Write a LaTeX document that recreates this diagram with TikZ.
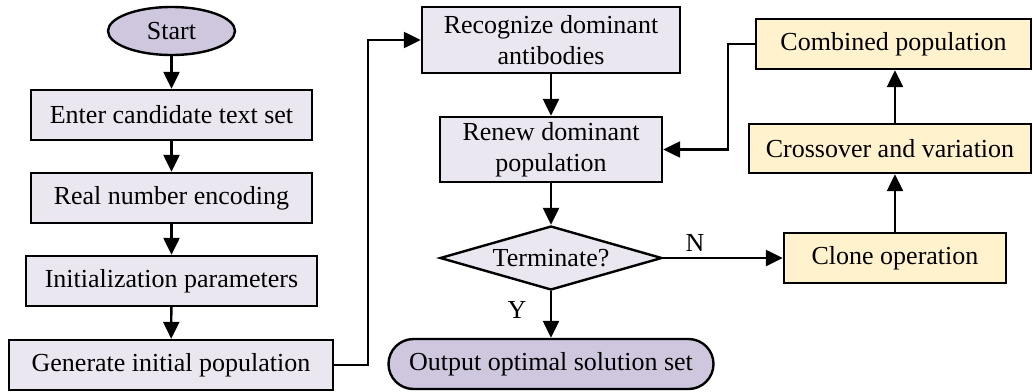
\documentclass[tikz,border=0pt]{standalone}
\usepackage{fontspec}
\setmainfont{Liberation Serif}
\usetikzlibrary{arrows.meta,shapes.geometric,calc}
\definecolor{boxfill}{HTML}{EAE7F0}
\definecolor{termfill}{HTML}{CFC7DE}
\definecolor{yelfill}{HTML}{FFF2CC}
\begin{document}
\begin{tikzpicture}[x=1pt,y=-1pt,
  every node/.style={font=\fontsize{26}{31}\selectfont, line width=2.4pt, draw=black, inner sep=0pt, align=center},
  proc/.style={rectangle, fill=boxfill},
  yproc/.style={rectangle, fill=yelfill},
  term/.style={ellipse, fill=termfill},
  pill/.style={rectangle, rounded corners=25pt, fill=termfill},
  decide/.style={diamond, fill=boxfill, aspect=3.47},
  lbl/.style={draw=none, fill=none},
  conn/.style={line width=2.4pt, -{Triangle[length=17pt,width=16pt]}}
]
\useasboundingbox (0,0) rectangle (1033,391);
\node[term, minimum width=127pt, minimum height=48pt] (start) at (171.5,31) {Start};
\node[proc, minimum width=281pt, minimum height=50pt] (enter) at (171.5,115) {Enter candidate text set};
\node[proc, minimum width=281pt, minimum height=50pt] (real) at (171.5,198) {Real number encoding};
\node[proc, minimum width=291pt, minimum height=50pt] (init) at (171.5,281) {Initialization parameters};
\node[proc, minimum width=324pt, minimum height=50pt] (gen) at (171,365) {Generate initial population};
\node[proc, minimum width=258pt, minimum height=66pt] (rec) at (551,40) {Recognize dominant\\antibodies};
\node[proc, minimum width=222pt, minimum height=65pt] (renew) at (551,149.5) {Renew dominant\\population};
\node[decide, minimum width=222pt, minimum height=64pt] (dec) at (551,258) {Terminate?};
\node[pill, minimum width=325pt, minimum height=50pt] (out) at (551,364) {Output optimal solution set};
\node[yproc, minimum width=222pt, minimum height=50pt] (clone) at (895,258) {Clone operation};
\node[yproc, minimum width=282pt, minimum height=49pt] (cross) at (890,148.5) {Crossover and variation};
\node[yproc, minimum width=275pt, minimum height=50pt] (comb) at (893.5,44) {Combined population};
\node[lbl] (nlab) at (695,243) {N};
\node[lbl] (ylab) at (517,310) {Y};
\draw[conn] (start) -- (enter);
\draw[conn] (enter) -- (real);
\draw[conn] (real) -- (init);
\draw[conn] (init) -- (gen);
\draw[conn] (gen.east) -- ++(34,0) |- (rec.west);
\draw[conn] (rec) -- (renew);
\draw[conn] (renew) -- (dec);
\draw[conn] (dec) -- (out);
\draw[conn] (dec.east) -- (clone.west);
\draw[conn] (clone.north) -- (clone.north |- cross.south);
\draw[conn] (clone.north |- cross.north) -- (clone.north |- comb.south);
\draw[conn] (comb.west) -- (728,44) |- (renew.east);
\end{tikzpicture}
\end{document}
